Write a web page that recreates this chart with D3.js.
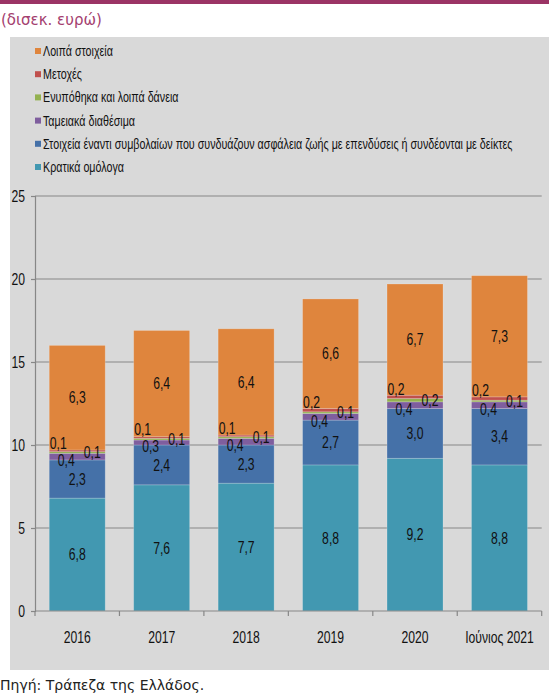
<!DOCTYPE html>
<html>
<head>
<meta charset="utf-8">
<script src="https://cdn.jsdelivr.net/npm/d3@7/dist/d3.min.js"></script>
<style>
  html, body { margin: 0; padding: 0; background: #ffffff; }
  svg { display: block; }
</style>
</head>
<body>
<svg id="chart" width="549" height="693"></svg>
<script>
// Insurance companies' investments by asset type (EUR billion)
const categories = ["2016", "2017", "2018", "2019", "2020", "Ιούνιος 2021"];

const seriesNames = [
  "Κρατικά ομόλογα",
  "Στοιχεία έναντι συμβολαίων που συνδυάζουν ασφάλεια ζωής με επενδύσεις ή συνδέονται με δείκτες",
  "Ταμειακά διαθέσιμα",
  "Ενυπόθηκα και λοιπά δάνεια",
  "Μετοχές",
  "Λοιπά στοιχεία"
];

const govBonds   = [6.8, 7.6, 7.7, 8.8, 9.2, 8.8];
const unitLinked = [2.3, 2.4, 2.3, 2.7, 3.0, 3.4];
const cash       = [0.4, 0.3, 0.4, 0.4, 0.4, 0.4];
const loans      = [0.1, 0.1, 0.1, 0.1, 0.2, 0.1];
const equities   = [0.1, 0.1, 0.1, 0.2, 0.2, 0.2];
const other      = [6.3, 6.4, 6.4, 6.6, 6.7, 7.3];

const yTicks = [0, 5, 10, 15, 20, 25];

const seriesColors = ["#4298b1", "#4571a8", "#7f5e9e", "#93b150", "#c0504d", "#df853d"];

// Build the stack input from the series arrays
const keys = ["k0", "k1", "k2", "k3", "k4", "k5"];
const seriesValues = [govBonds, unitLinked, cash, loans, equities, other];
const table = categories.map((c, i) => {
  const row = { category: c };
  keys.forEach((k, j) => { row[k] = seriesValues[j][i]; });
  return row;
});
const stacked = d3.stack().keys(keys)(table);

const svg = d3.select("#chart");
const W = 549, H = 693;

const sans = "'Liberation Sans', Arial, sans-serif";
const wide = "'DejaVu Sans', Verdana, sans-serif";

// Condensed-looking text: a regular face squeezed horizontally around its anchor
function squeezed(parent, px, py, str, opts) {
  return parent.append("text")
    .attr("transform", `translate(${px},${py}) scale(${opts.sx},1)`)
    .attr("x", 0).attr("y", 0).attr("dy", "0.35em")
    .attr("text-anchor", opts.anchor || "start")
    .attr("font-family", sans).attr("font-size", opts.size)
    .attr("fill", opts.fill || "#111")
    .text(str);
}

// Header band and unit label
svg.append("rect").attr("x", 0).attr("y", 0).attr("width", W).attr("height", 4).attr("fill", "#9b3465");
svg.append("text").attr("x", 1).attr("y", 25)
  .attr("font-family", wide).attr("font-size", 15)
  .attr("fill", "#a4406f").text("(δισεκ. ευρώ)");

// Grey chart panel
svg.append("rect").attr("x", 10).attr("y", 37).attr("width", W - 10).attr("height", 633).attr("fill", "#d9d9d9");

// Source note
svg.append("text").attr("x", 0).attr("y", 690)
  .attr("font-family", wide).attr("font-size", 14)
  .attr("fill", "#222").text("Πηγή: Τράπεζα της Ελλάδος.");

// Legend (top series first); squeezed so the longest entry ends near x = 513
const legend = svg.append("g");
const legendOrder = [5, 4, 3, 2, 1, 0];
const legendSize = 14.5;
const probe = legend.append("text").attr("font-family", sans).attr("font-size", legendSize)
  .text(seriesNames[1]);
const legendSx = Math.min(1, 470 / probe.node().getComputedTextLength());
probe.remove();
legendOrder.forEach((si, r) => {
  const y = 51 + r * 23.2;
  legend.append("rect").attr("x", 35).attr("y", y - 3).attr("width", 6).attr("height", 6).attr("fill", seriesColors[si]);
  squeezed(legend, 43, y, seriesNames[si], { sx: legendSx, size: legendSize });
});

// Scales
const plot = { left: 35, right: 541.7, top: 196, bottom: 611 };
const x = d3.scaleBand().domain(categories).range([plot.left, plot.right])
  .paddingInner(0.337).paddingOuter(0.1685);
const y = d3.scaleLinear().domain([0, 25]).range([plot.bottom, plot.top]);

// Gridlines
svg.append("g").selectAll("line").data(yTicks.filter(t => t > 0)).join("line")
  .attr("x1", plot.left).attr("x2", plot.right)
  .attr("y1", d => y(d)).attr("y2", d => y(d))
  .attr("stroke", "#878787").attr("stroke-width", 1.2);

// Y axis
const yAxis = svg.append("g").attr("transform", `translate(${plot.left},0)`)
  .call(d3.axisLeft(y).tickValues(yTicks).tickSize(4).tickFormat(""));
yAxis.select(".domain").attr("stroke", "#878787").attr("stroke-width", 1.2);
yAxis.selectAll(".tick line").attr("stroke", "#878787").attr("stroke-width", 1.2);
const yLabels = svg.append("g");
yTicks.forEach(t => squeezed(yLabels, 25, y(t), d3.format("d")(t), { sx: 0.76, size: 16, anchor: "end" }));

// Bars
const barGroups = svg.append("g").selectAll("g").data(stacked).join("g")
  .attr("fill", (d, i) => seriesColors[i]);
barGroups.selectAll("rect").data(d => d).join("rect")
  .attr("x", d => x(d.data.category))
  .attr("width", x.bandwidth())
  .attr("y", d => y(d[1]))
  .attr("height", d => y(d[0]) - y(d[1]))
  .attr("stroke", "rgba(255,255,255,0.25)").attr("stroke-width", 0.8);

// X axis with tick marks between categories
const xAxisG = svg.append("g");
xAxisG.append("line").attr("x1", plot.left).attr("x2", plot.right)
  .attr("y1", plot.bottom).attr("y2", plot.bottom)
  .attr("stroke", "#878787").attr("stroke-width", 1.2);
const step = x.step();
const boundaries = d3.range(categories.length + 1).map(i => plot.left + i * step);
xAxisG.selectAll("line.tk").data(boundaries).join("line").attr("class", "tk")
  .attr("x1", d => d).attr("x2", d => d)
  .attr("y1", plot.bottom).attr("y2", plot.bottom + 5)
  .attr("stroke", "#878787").attr("stroke-width", 1.2);
categories.forEach(c => squeezed(xAxisG, x(c) + x.bandwidth() / 2, 637, c, { sx: 0.76, size: 16, anchor: "middle" }));

// Data labels
const fmt = v => d3.format(".1f")(v).replace(".", ",");
// offsets for the thin middle segments, so their labels do not overlap
const labelShift = [
  { dx: 0, dy: 0 },
  { dx: 0, dy: 0 },
  { dx: -11, dy: 4 },
  { dx: 15, dy: 0 },
  { dx: -19, dy: -8 },
  { dx: 0, dy: 0 }
];
const labels = svg.append("g");
stacked.forEach((s, si) => {
  s.forEach(d => {
    squeezed(labels,
      x(d.data.category) + x.bandwidth() / 2 + labelShift[si].dx,
      y((d[0] + d[1]) / 2) + labelShift[si].dy,
      fmt(d[1] - d[0]),
      { sx: 0.74, size: 16.5, anchor: "middle" });
  });
});
</script>
</body>
</html>
